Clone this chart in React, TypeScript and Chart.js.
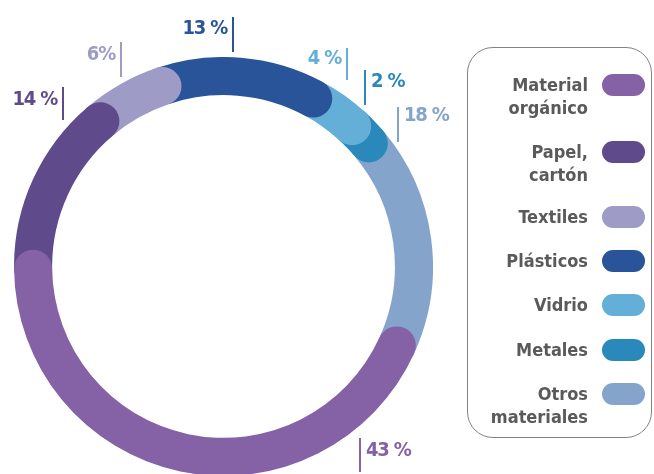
import React, { useEffect, useRef } from "react";
import { Chart, registerables } from "chart.js";

Chart.register(...registerables);

// ---- data ----
const CATEGORIES = ["Material orgánico", "Papel, cartón", "Textiles", "Plásticos", "Vidrio", "Metales", "Otros materiales"];
const LEGEND_LINES = [["Material", "orgánico"], ["Papel,", "cartón"], ["Textiles"], ["Plásticos"], ["Vidrio"], ["Metales"], ["Otros", "materiales"]];
const VALUES = [43, 14, 6, 13, 4, 2, 18];
const VALUE_LABELS = ["43 %", "14 %", "6%", "13 %", "4 %", "2 %", "18 %"];
const COLORS = ["#8561a6", "#5f4b8b", "#9e9bc7", "#2a5499", "#63afd7", "#2a88bb", "#85a4cc"];

// ---- layout (positions of annotations, not data) ----
const LABEL_LAYOUT = [
  { x: 360, y1: 438, y2: 472, side: "right", cy: 449 },
  { x: 63, y1: 87, y2: 120, side: "left", cy: 98 },
  { x: 121, y1: 42, y2: 77, side: "left", cy: 53 },
  { x: 233, y1: 17, y2: 52, side: "left", cy: 27 },
  { x: 347, y1: 48, y2: 80, side: "left", cy: 57 },
  { x: 365, y1: 70, y2: 105, side: "right", cy: 80 },
  { x: 398, y1: 107, y2: 142, side: "right", cy: 114 },
];
const LEGEND_ROW_Y = [85, 152, 217, 261, 305, 350, 394];

const FONT = '"DejaVu Sans Condensed", "Liberation Sans Narrow", sans-serif';

const roundCaps = {
  id: "roundCaps",
  afterDatasetsDraw(chart: any) {
    const meta = chart.getDatasetMeta(0);
    const ctx = chart.ctx;
    const drawCap = (arc: any, color: string, angle: number) => {
      const p = arc.getProps(["x", "y", "innerRadius", "outerRadius"], true);
      const r = (p.innerRadius + p.outerRadius) / 2;
      const w = (p.outerRadius - p.innerRadius) / 2;
      ctx.save();
      ctx.fillStyle = color;
      ctx.beginPath();
      ctx.arc(p.x + r * Math.cos(angle), p.y + r * Math.sin(angle), w, 0, Math.PI * 2);
      ctx.fill();
      ctx.restore();
    };
    const n = meta.data.length;
    for (let i = n - 2; i >= 0; i--) {
      const arc = meta.data[i];
      const a = arc.getProps(["endAngle"], true);
      drawCap(arc, COLORS[i], a.endAngle);
    }
    const first = meta.data[0];
    const s = first.getProps(["startAngle"], true);
    drawCap(first, COLORS[0], s.startAngle);
  },
};

export default function App() {
  const ref = useRef<HTMLCanvasElement | null>(null);
  useEffect(() => {
    if (!ref.current) return;
    const chart = new Chart(ref.current, {
      type: "doughnut",
      data: {
        labels: CATEGORIES,
        datasets: [
          {
            data: VALUES,
            backgroundColor: COLORS,
            borderWidth: 0,
            hoverOffset: 0,
            offset: 0,
          },
        ],
      },
      options: {
        responsive: false,
        animation: false,
        cutout: "81.8%",
        rotation: 114.5,
        layout: { padding: 0 },
        plugins: { legend: { display: false }, tooltip: { enabled: false } },
        events: [],
      },
      plugins: [roundCaps],
    });
    return () => chart.destroy();
  }, []);

  return (
    <div style={{ position: "fixed", left: 0, top: 0, width: 654, height: 474, overflow: "hidden", background: "#fff", fontFamily: FONT }}>
      <canvas ref={ref} width={419} height={419} style={{ position: "absolute", left: 14, top: 57, width: 419, height: 419 }} />
      {LABEL_LAYOUT.map((l, i) => (
        <React.Fragment key={i}>
          <div style={{ position: "absolute", left: l.x - 1, top: l.y1, width: 2, height: l.y2 - l.y1, background: COLORS[i] }} />
          <div
            style={{
              position: "absolute",
              top: l.cy - 12,
              height: 24,
              lineHeight: "24px",
              fontSize: 20,
              fontWeight: 700,
              letterSpacing: "-1.2px",
              color: COLORS[i],
              whiteSpace: "nowrap",
              ...(l.side === "left"
                ? { left: l.x - 206, width: 200, textAlign: "right" as const }
                : { left: l.x + 6, width: 200, textAlign: "left" as const }),
            }}
          >
            {VALUE_LABELS[i]}
          </div>
        </React.Fragment>
      ))}
      <div style={{ position: "absolute", left: 467, top: 47, width: 185, height: 391, border: "1.5px solid #828282", borderRadius: 26, boxSizing: "border-box" }} />
      {LEGEND_LINES.map((lines, i) => (
        <React.Fragment key={"lg" + i}>
          <div
            style={{
              position: "absolute",
              left: 388,
              width: 200,
              top: LEGEND_ROW_Y[i] - 12,
              textAlign: "right",
              fontSize: 18,
              fontWeight: 700,
              lineHeight: "23px",
              color: "#5a5a5a",
              whiteSpace: "nowrap",
            }}
          >
            {lines.map((t, j) => (
              <div key={j}>{t}</div>
            ))}
          </div>
          <div style={{ position: "absolute", left: 602, top: LEGEND_ROW_Y[i] - 11, width: 43, height: 22, borderRadius: 11, background: COLORS[i] }} />
        </React.Fragment>
      ))}
    </div>
  );
}
